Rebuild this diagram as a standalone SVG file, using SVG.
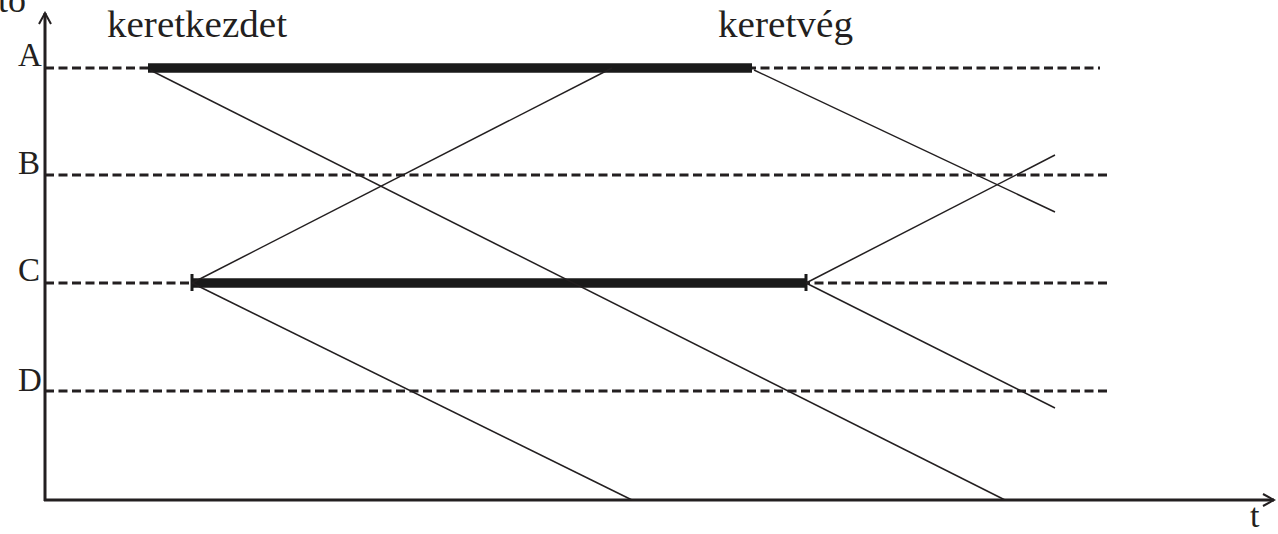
<svg xmlns="http://www.w3.org/2000/svg" width="1278" height="534" viewBox="0 0 1278 534">
<style>
.lbl{font-family:"Liberation Serif","Times New Roman",serif;fill:#231f20}
.dash{stroke:#231f20;stroke-width:3;stroke-dasharray:9 4.5;fill:none}
.thin{stroke:#231f20;stroke-width:1.5;fill:none}
.bar{stroke:#1a1a1a;stroke-width:9.5;fill:none}
.tick{stroke:#1a1a1a;stroke-width:3;fill:none}
.axis{stroke:#231f20;stroke-width:3;fill:none}
</style>
<defs>
<marker id="arr" markerWidth="14" markerHeight="14" refX="12" refY="7" orient="auto" markerUnits="userSpaceOnUse">
<path d="M1,1 L12,7 L1,13" fill="none" stroke="#231f20" stroke-width="2"/>
</marker>
</defs>
<rect width="1278" height="534" fill="#fff"/>
<g id="axes">
<line class="axis" x1="45" y1="501" x2="45" y2="13" marker-end="url(#arr)"/>
<line class="axis" x1="44" y1="500" x2="1274" y2="500" marker-end="url(#arr)"/>
<text class="lbl" x="-2" y="12" font-size="36">tó</text>
<text class="lbl" x="1250" y="527" font-size="34">t</text>
</g>
<g id="station-A">
<line class="dash" x1="45" y1="68" x2="1100" y2="68"/>
<text class="lbl" x="18" y="66" font-size="33">A</text>
</g>
<g id="station-B">
<line class="dash" x1="45" y1="175" x2="1110" y2="175"/>
<text class="lbl" x="18" y="174" font-size="33">B</text>
</g>
<g id="station-C">
<line class="dash" x1="45" y1="283" x2="1110" y2="283"/>
<text class="lbl" x="18" y="281" font-size="33">C</text>
</g>
<g id="station-D">
<line class="dash" x1="45" y1="391" x2="1110" y2="391"/>
<text class="lbl" x="18" y="391" font-size="33">D</text>
</g>
<g id="labels">
<text class="lbl" x="107" y="37" font-size="37" textLength="180" lengthAdjust="spacingAndGlyphs">keretkezdet</text>
<text class="lbl" x="718" y="37" font-size="37" textLength="135" lengthAdjust="spacingAndGlyphs">keretvég</text>
</g>
<g id="frames">
<line class="bar" x1="148" y1="68" x2="752" y2="68"/>
<line class="bar" x1="192" y1="283" x2="806" y2="283"/>
<line class="tick" x1="192" y1="274" x2="192" y2="291"/>
<line class="tick" x1="806" y1="274" x2="806" y2="291"/>
</g>
<g id="connectors">
<line class="thin" x1="150" y1="70" x2="1005" y2="500"/>
<line class="thin" x1="192" y1="283" x2="612" y2="68"/>
<line class="thin" x1="192" y1="283" x2="632" y2="500"/>
<line class="thin" x1="754" y1="70" x2="1055" y2="212"/>
<line class="thin" x1="806" y1="283" x2="1055" y2="155"/>
<line class="thin" x1="806" y1="283" x2="1055" y2="408"/>
</g>
</svg>
